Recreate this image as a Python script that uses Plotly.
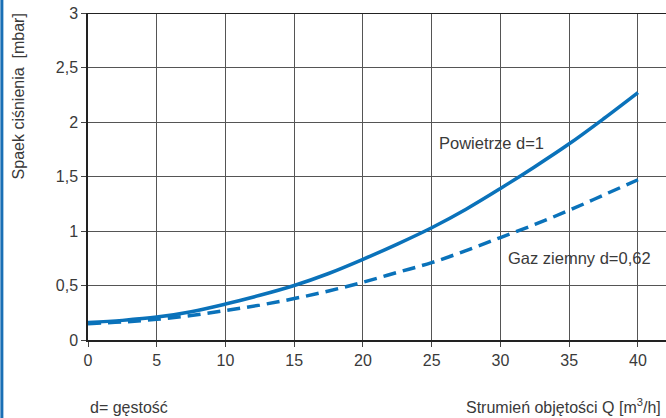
import plotly.graph_objects as go

q = [0, 2.5, 5, 7.5, 10, 12.5, 15, 17.5, 20, 22.5, 25, 27.5, 30, 32.5, 35, 37.5, 40]
powietrze = [0.16, 0.18, 0.21, 0.26, 0.33, 0.41, 0.50, 0.61, 0.74, 0.88, 1.03, 1.20, 1.39, 1.59, 1.80, 2.03, 2.27]
gaz = [0.15, 0.165, 0.19, 0.225, 0.27, 0.32, 0.38, 0.45, 0.53, 0.62, 0.71, 0.82, 0.94, 1.06, 1.19, 1.33, 1.47]

x_ticks = [0, 5, 10, 15, 20, 25, 30, 35, 40]
x_labels = ["0", "5", "10", "15", "20", "25", "30", "35", "40"]
y_ticks = [0, 0.5, 1, 1.5, 2, 2.5, 3]
y_labels = ["0", "0,5", "1", "1,5", "2", "2,5", "3"]

blue = "#0a72ba"
txt = "#3a3a3a"
font = "Liberation Sans, Arial, sans-serif"
fs = 16

fig = go.Figure()
fig.add_trace(go.Scatter(x=q, y=powietrze, mode="lines", line=dict(color=blue, width=3.5, shape="spline"),
                         name="Powietrze d=1", cliponaxis=False))
fig.add_trace(go.Scatter(x=q, y=gaz, mode="lines", line=dict(color=blue, width=3.5, dash="13px,7px", shape="spline"),
                         name="Gaz ziemny d=0,62", cliponaxis=False))

fig.update_layout(
    width=666, height=418,
    margin=dict(l=88, r=0, t=13, b=78),
    paper_bgcolor="white", plot_bgcolor="white",
    showlegend=False,
    font=dict(family=font, size=fs, color=txt),
)
fig.update_xaxes(range=[0, 42.04], tickvals=x_ticks, ticktext=x_labels, showgrid=True,
                 gridcolor="#555555", gridwidth=1, showline=True, linecolor="#222222", linewidth=2,
                 ticks="outside", ticklen=5, tickcolor="#444444", zeroline=False,
                 tickfont=dict(family=font, size=fs, color=txt))
fig.update_yaxes(range=[0, 3], tickvals=y_ticks, ticktext=y_labels, showgrid=True,
                 gridcolor="#555555", gridwidth=1, showline=True, linecolor="#222222", linewidth=1.5,
                 ticks="outside", ticklen=5, tickcolor="#444444", zeroline=False,
                 tickfont=dict(family=font, size=fs, color=txt))

# top border
fig.add_shape(type="line", xref="paper", yref="y", x0=0, x1=1, y0=3, y1=3,
              line=dict(color="#222222", width=2))
# blue left edge line
fig.add_shape(type="line", xref="paper", yref="paper", x0=-0.149, x1=-0.149, y0=-0.3, y1=1.1,
              line=dict(color="#1a6fb5", width=3))

fig.add_annotation(text="Powietrze d=1", x=25.4, y=1.81, xref="x", yref="y", showarrow=False,
                   xanchor="left", font=dict(family=font, size=16.5, color=txt))
fig.add_annotation(text="Gaz ziemny d=0,62", x=30.4, y=0.75, xref="x", yref="y", showarrow=False,
                   xanchor="left", font=dict(family=font, size=16.5, color=txt))
fig.add_annotation(text="Spaek ciśnienia  [mbar]", x=-0.121, y=1.005, xref="paper", yref="paper",
                   textangle=-90, showarrow=False, xanchor="center", yanchor="top",
                   font=dict(family=font, size=fs, color=txt))
fig.add_annotation(text="d= gęstość", x=0, y=-0.207, xref="paper", yref="paper", showarrow=False,
                   xanchor="left", yanchor="middle", font=dict(family=font, size=fs, color=txt))
fig.add_annotation(text="Strumień objętości Q [m<sup>3</sup>/h]", x=0.995, y=-0.202, xref="paper", yref="paper",
                   showarrow=False, xanchor="right", yanchor="middle", font=dict(family=font, size=fs, color=txt))

fig.write_html("out.html", config={"displayModeBar": False},
               post_script="document.body.style.margin='0';document.body.style.overflow='hidden';")
